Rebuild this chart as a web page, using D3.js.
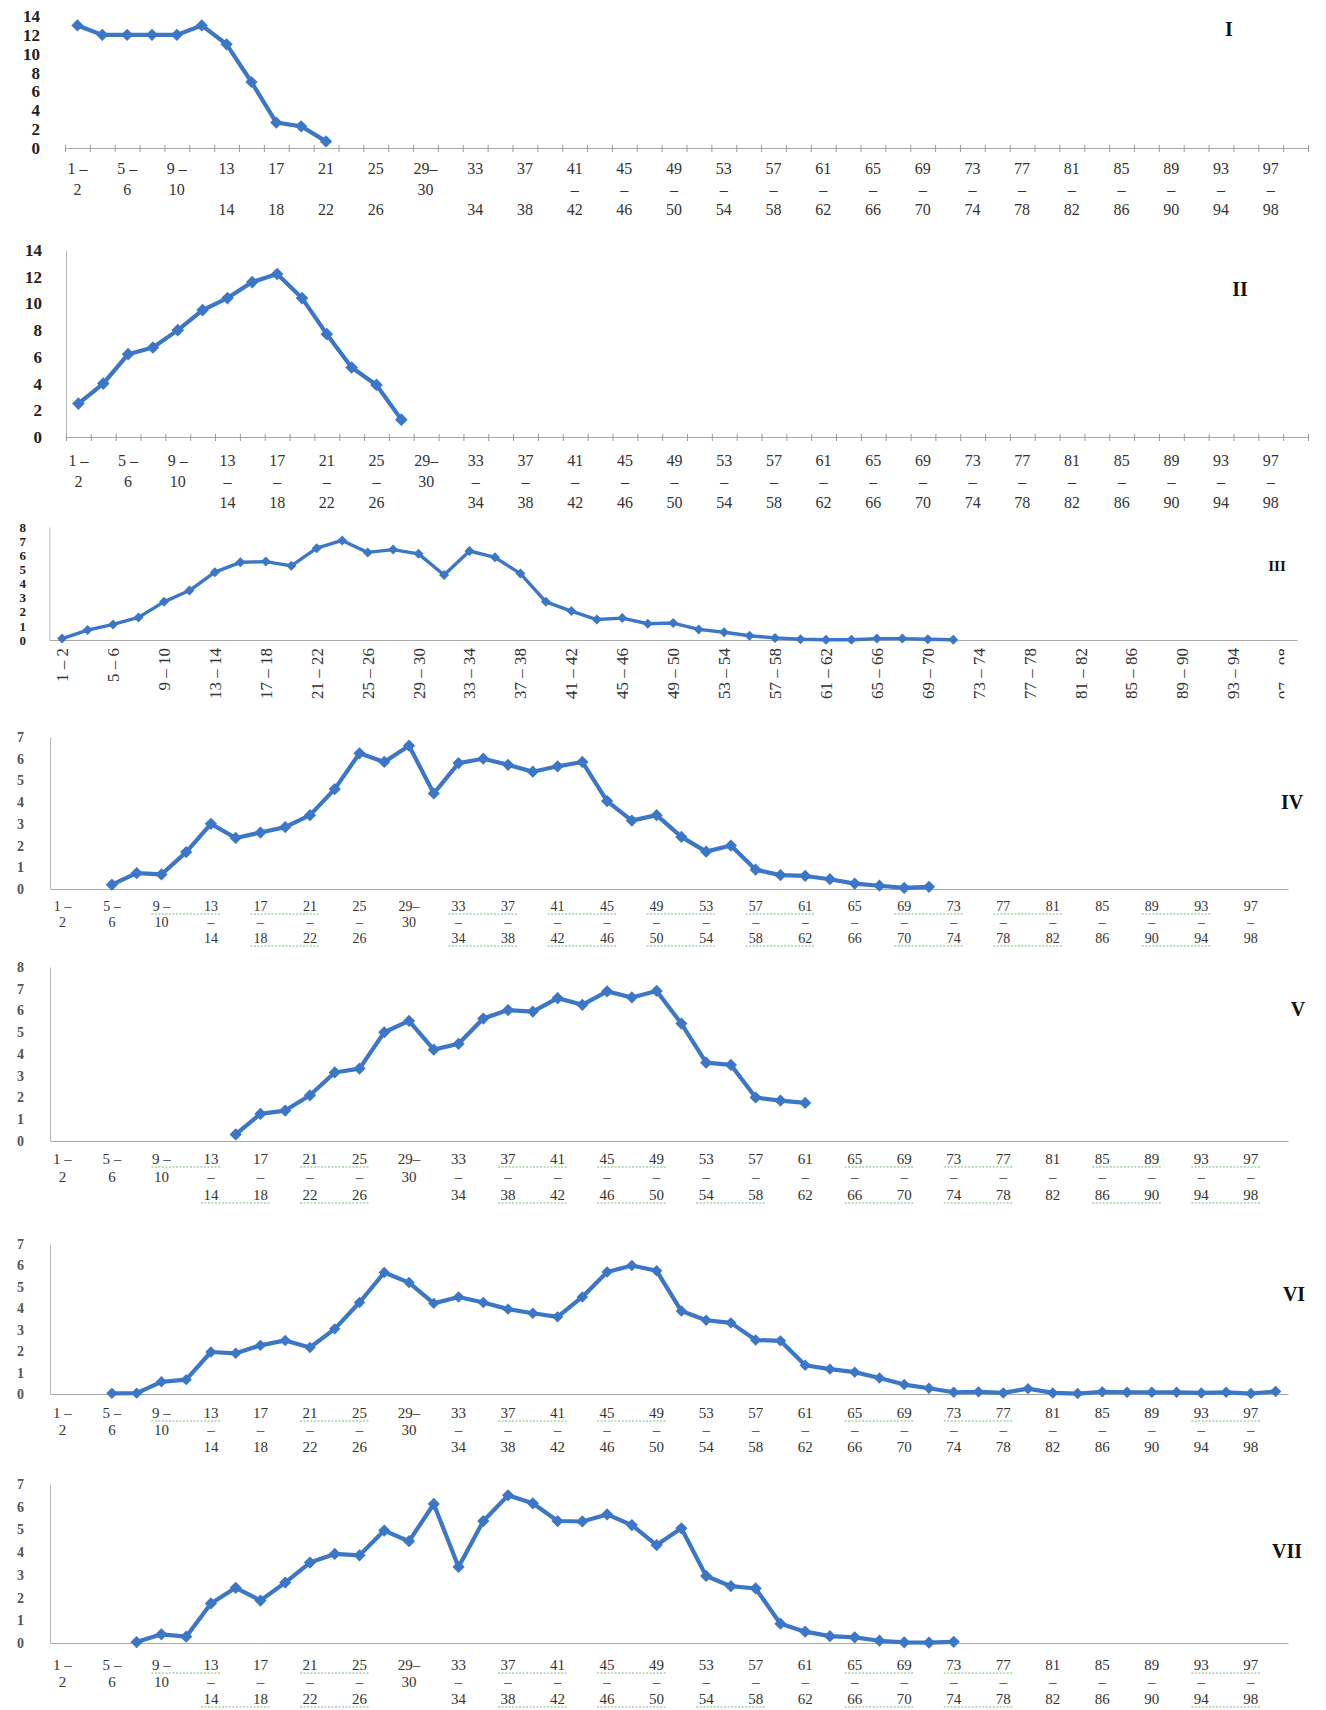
<!DOCTYPE html>
<html>
<head>
<meta charset="utf-8">
<script src="https://cdn.jsdelivr.net/npm/d3@7"></script>
<style>
  body { margin: 0; background: #fff; }
  svg { display: block; background: #fff; }
  .lbl { font-family: "Liberation Serif", "DejaVu Serif", serif; }
</style>
</head>
<body>
<svg id="chart" width="1326" height="1710"></svg>
<script>
// age classes (2-year bins)
const categories = ["1–2","3–4","5–6","7–8","9–10","11–12","13–14","15–16","17–18","19–20",
  "21–22","23–24","25–26","27–28","29–30","31–32","33–34","35–36","37–38","39–40",
  "41–42","43–44","45–46","47–48","49–50","51–52","53–54","55–56","57–58","59–60",
  "61–62","63–64","65–66","67–68","69–70","71–72","73–74","75–76","77–78","79–80",
  "81–82","83–84","85–86","87–88","89–90","91–92","93–94","95–96","97–98","99–100"];

// wrapped tick labels, shown for every second class
const tickLabels = ["1 –\n2","5 –\n6","9 –\n10","13\n–\n14","17\n–\n18","21\n–\n22","25\n–\n26",
  "29–\n30","33\n–\n34","37\n–\n38","41\n–\n42","45\n–\n46","49\n–\n50","53\n–\n54","57\n–\n58",
  "61\n–\n62","65\n–\n66","69\n–\n70","73\n–\n74","77\n–\n78","81\n–\n82","85\n–\n86","89\n–\n90",
  "93\n–\n94","97\n–\n98"];

const yTicks14 = [0, 2, 4, 6, 8, 10, 12, 14];
const yTicks8 = [0, 1, 2, 3, 4, 5, 6, 7, 8];
const yTicks7 = [0, 1, 2, 3, 4, 5, 6, 7];

// series values, each starting at the class index given by its start
const startI = 0;
const seriesI = [13, 12, 12, 12, 12, 13, 11, 7, 2.7, 2.3, 0.7];
const startII = 0;
const seriesII = [2.5, 4.0, 6.2, 6.7, 8.0, 9.5, 10.4, 11.6, 12.2, 10.4, 7.7, 5.2, 3.9, 1.3];
const startIII = 0;
const seriesIII = [0.1, 0.7, 1.1, 1.6, 2.7, 3.5, 4.8, 5.5, 5.55, 5.25, 6.5, 7.05, 6.2, 6.4, 6.1, 4.6,
  6.3, 5.85, 4.7, 2.7, 2.05, 1.45, 1.55, 1.15, 1.2, 0.75, 0.55, 0.3, 0.15, 0.05, 0.02, 0.02, 0.1,
  0.1, 0.05, 0.02];
const startIV = 2;
const seriesIV = [0.2, 0.73, 0.67, 1.7, 3.0, 2.35, 2.6, 2.85, 3.4, 4.6, 6.25, 5.85, 6.6, 4.4, 5.8,
  6.0, 5.72, 5.4, 5.65, 5.85, 4.05, 3.15, 3.4, 2.4, 1.72, 2.0, 0.89, 0.64, 0.6, 0.45, 0.25, 0.15,
  0.05, 0.1];
const startV = 7;
const seriesV = [0.3, 1.25, 1.4, 2.1, 3.15, 3.33, 5.0, 5.52, 4.2, 4.47, 5.63, 6.02, 5.95, 6.57,
  6.26, 6.88, 6.6, 6.9, 5.4, 3.6, 3.5, 2.0, 1.86, 1.75];
const startVI = 2;
const seriesVI = [0.03, 0.04, 0.57, 0.67, 1.96, 1.9, 2.27, 2.5, 2.17, 3.04, 4.27, 5.67, 5.2, 4.23,
  4.53, 4.27, 3.96, 3.77, 3.6, 4.53, 5.69, 6.0, 5.75, 3.87, 3.44, 3.32, 2.52, 2.48, 1.34, 1.16,
  1.02, 0.75, 0.44, 0.27, 0.08, 0.1, 0.05, 0.25, 0.05, 0.02, 0.1, 0.08, 0.08, 0.08, 0.05, 0.08,
  0.02, 0.12];
const startVII = 3;
const seriesVII = [0.04, 0.38, 0.28, 1.74, 2.43, 1.87, 2.66, 3.54, 3.92, 3.86, 4.95, 4.48, 6.12,
  3.35, 5.37, 6.5, 6.15, 5.37, 5.35, 5.66, 5.19, 4.31, 5.05, 2.95, 2.5, 2.4, 0.85, 0.5, 0.3, 0.25,
  0.1, 0.03, 0.02, 0.05];

const blue = "#3b77c6";
const svg = d3.select("#chart");

const panels = [
  { name: "I", data: seriesI, start: startI, nCat: 50, x0: 65, x1: 1308, yTop: 16, yBot: 148,
    yMax: 14, yTicks: yTicks14, yRight: 40, yFont: 17, yBold: true, vAxis: false, bTicks: true,
    rows: [20, 41, 61], fs: 16, noDash: [6, 18], num: [1229, 29, 20], lw: 4.2, ms: 75 },
  { name: "II", data: seriesII, start: startII, nCat: 50, x0: 66, x1: 1308, yTop: 250, yBot: 437,
    yMax: 14, yTicks: yTicks14, yRight: 42, yFont: 17, yBold: true, vAxis: true, bTicks: true,
    rows: [23, 44, 65], fs: 16, num: [1240, 289, 20], lw: 4.2, ms: 80 },
  { name: "III", data: seriesIII, start: startIII, nCat: 49, x0: 49.4, x1: 1297, yTop: 527, yBot: 640,
    yMax: 8, yTicks: yTicks8, yRight: 26, yFont: 13, yBold: true, vAxis: true, rotated: true,
    fs: 17, num: [1277, 566, 15], lw: 3.4, ms: 50 },
  { name: "IV", data: seriesIV, start: startIV, nCat: 50, x0: 50, x1: 1288, yTop: 737, yBot: 889,
    yMax: 7, yTicks: yTicks7, yRight: 24, yFont: 14, vAxis: true, rows: [17, 33, 49], fs: 14,
    num: [1292, 802, 20], lw: 4.2, ms: 75,
    sq1: [[4, 6], [8, 10], [16, 18], [20, 22], [24, 26], [28, 30], [34, 36], [38, 40], [44, 46]],
    sq3: [[8, 10], [16, 18], [20, 22], [24, 26], [28, 30], [34, 36], [38, 40], [44, 46]] },
  { name: "V", data: seriesV, start: startV, nCat: 50, x0: 50, x1: 1288, yTop: 967, yBot: 1141,
    yMax: 8, yTicks: yTicks8, yRight: 24, yFont: 14, vAxis: true, rows: [18, 36, 54], fs: 15,
    num: [1298, 1009, 20], lw: 4.2, ms: 75,
    sq1: [[4, 6], [10, 12], [18, 20], [22, 24], [32, 34], [36, 38], [42, 44], [46, 48]],
    sq3: [[6, 8], [10, 12], [18, 20], [22, 24], [26, 28], [32, 34], [36, 38], [42, 44], [46, 48]] },
  { name: "VI", data: seriesVI, start: startVI, nCat: 50, x0: 50, x1: 1288, yTop: 1244, yBot: 1394,
    yMax: 7, yTicks: yTicks7, yRight: 24, yFont: 14, vAxis: true, rows: [19, 36, 53], fs: 15,
    num: [1294, 1294, 20], lw: 4.2, ms: 65,
    sq1: [[4, 6], [10, 12], [18, 20], [22, 24], [32, 34], [36, 38], [46, 48]], sq3: [] },
  { name: "VII", data: seriesVII, start: startVII, nCat: 50, x0: 50, x1: 1288, yTop: 1484, yBot: 1643,
    yMax: 7, yTicks: yTicks7, yRight: 24, yFont: 14, vAxis: true, rows: [22, 39, 56], fs: 15,
    num: [1287, 1551, 20], lw: 4.2, ms: 75,
    sq1: [[4, 6], [10, 12], [18, 20], [22, 24], [32, 34], [36, 38], [46, 48]],
    sq3: [[6, 8], [10, 12], [18, 20], [22, 24], [26, 28], [32, 34], [36, 38], [46, 48]] }
];

function drawPanel(p, pi) {
  const cats = categories.slice(0, p.nCat);
  const x = d3.scaleBand().domain(cats).range([p.x0, p.x1]).padding(0);
  const y = d3.scaleLinear().domain([0, p.yMax]).range([p.yBot, p.yTop]);
  const cx = c => x(c) + x.bandwidth() / 2;
  const g = svg.append("g").attr("class", "panel panel-" + p.name);

  // y axis
  const yg = g.append("g")
    .attr("transform", `translate(${p.x0},0)`)
    .call(d3.axisLeft(y).tickValues(p.yTicks).tickFormat(d3.format("d"))
      .tickSize(0).tickSizeOuter(0).tickPadding(p.x0 - p.yRight));
  yg.select(".domain").attr("stroke", p.vAxis ? "#b8b8b8" : "none");
  yg.selectAll(".tick text")
    .attr("class", "lbl")
    .style("font-size", p.yFont + "px")
    .style("font-weight", p.yBold ? "bold" : "bold")
    .attr("fill", p.yBold ? "#222" : "#555");

  // x axis, labels on every second class
  const shown = cats.filter((c, i) => i % 2 === 0);
  const xg = g.append("g")
    .attr("transform", `translate(0,${p.yBot})`)
    .call(d3.axisBottom(x).tickValues(shown).tickSize(0).tickSizeOuter(0).tickFormat(""));
  xg.select(".domain").attr("stroke", "#a8a8a8").attr("stroke-width", 1.2);
  xg.selectAll(".tick text").remove();

  if (p.rotated) {
    xg.selectAll(".tick").append("text")
      .attr("class", "lbl")
      .attr("transform", "rotate(-90)")
      .attr("x", -8)
      .attr("dy", "0.35em")
      .attr("text-anchor", "end")
      .attr("fill", "#333")
      .style("font-size", p.fs + "px")
      .text(c => c.replace("–", " – "));
    // the last label is cut off at the chart edge
    const clipId = "clip" + pi;
    const last = shown[shown.length - 1];
    svg.append("clipPath").attr("id", clipId)
      .append("rect").attr("x", -20).attr("y", -200).attr("width", 20).attr("height", 400);
    xg.selectAll(".tick").filter(c => c === last).attr("clip-path", `url(#${clipId})`);
  } else {
    xg.selectAll(".tick").each(function (c, k) {
      const lines = tickLabels[k].split("\n");
      const idx = categories.indexOf(c);
      const t = d3.select(this);
      lines.forEach((s, r) => {
        if (r === 1 && lines.length === 3 && p.noDash && idx >= p.noDash[0] && idx <= p.noDash[1]) return;
        t.append("text")
          .attr("class", "lbl")
          .attr("y", p.rows[r])
          .attr("dy", "0.35em")
          .attr("text-anchor", "middle")
          .attr("fill", "#333")
          .style("font-size", p.fs + "px")
          .text(s);
      });
    });

    // green spell-check underlines under some label pairs
    const squig = (pairs, row) => {
      g.selectAll(null).data(pairs).join("line")
        .attr("x1", d => cx(categories[d[0]]) - 10)
        .attr("x2", d => cx(categories[d[1]]) + 10)
        .attr("y1", p.yBot + p.rows[row] + 8)
        .attr("y2", p.yBot + p.rows[row] + 8)
        .attr("stroke", "#7cb87c")
        .attr("stroke-width", 1.2)
        .attr("stroke-dasharray", "2,1.5");
    };
    if (p.sq1) squig(p.sq1, 0);
    if (p.sq3) squig(p.sq3, 2);
  }

  // small tick marks on class boundaries (panels I and II)
  if (p.bTicks) {
    const xb = d3.scaleLinear().domain([0, p.nCat]).range([p.x0, p.x1]);
    const tg = g.append("g")
      .attr("transform", `translate(0,${p.yBot})`)
      .call(d3.axisBottom(xb).tickValues(d3.range(p.nCat + 1)).tickSize(4).tickFormat(""));
    tg.select(".domain").remove();
    tg.selectAll("line").attr("y1", -3).attr("stroke", "#999");
  }

  // line and diamond markers
  const pts = p.data.map((v, i) => ({ c: categories[p.start + i], v: v }));
  const line = d3.line().x(d => cx(d.c)).y(d => y(d.v));
  g.append("path")
    .datum(pts)
    .attr("d", line)
    .attr("fill", "none")
    .attr("stroke", blue)
    .attr("stroke-width", p.lw)
    .attr("stroke-linejoin", "round");
  g.selectAll(".mark").data(pts).join("path")
    .attr("class", "mark")
    .attr("d", d3.symbol(d3.symbolSquare, p.ms))
    .attr("transform", d => `translate(${cx(d.c)},${y(d.v)}) rotate(45)`)
    .attr("fill", blue);

  // panel numeral
  g.append("text")
    .attr("class", "lbl")
    .attr("x", p.num[0])
    .attr("y", p.num[1])
    .attr("dy", "0.35em")
    .attr("text-anchor", "middle")
    .attr("fill", "#111")
    .style("font-size", p.num[2] + "px")
    .style("font-weight", "bold")
    .text(p.name);
}

panels.forEach(drawPanel);
</script>
</body>
</html>
